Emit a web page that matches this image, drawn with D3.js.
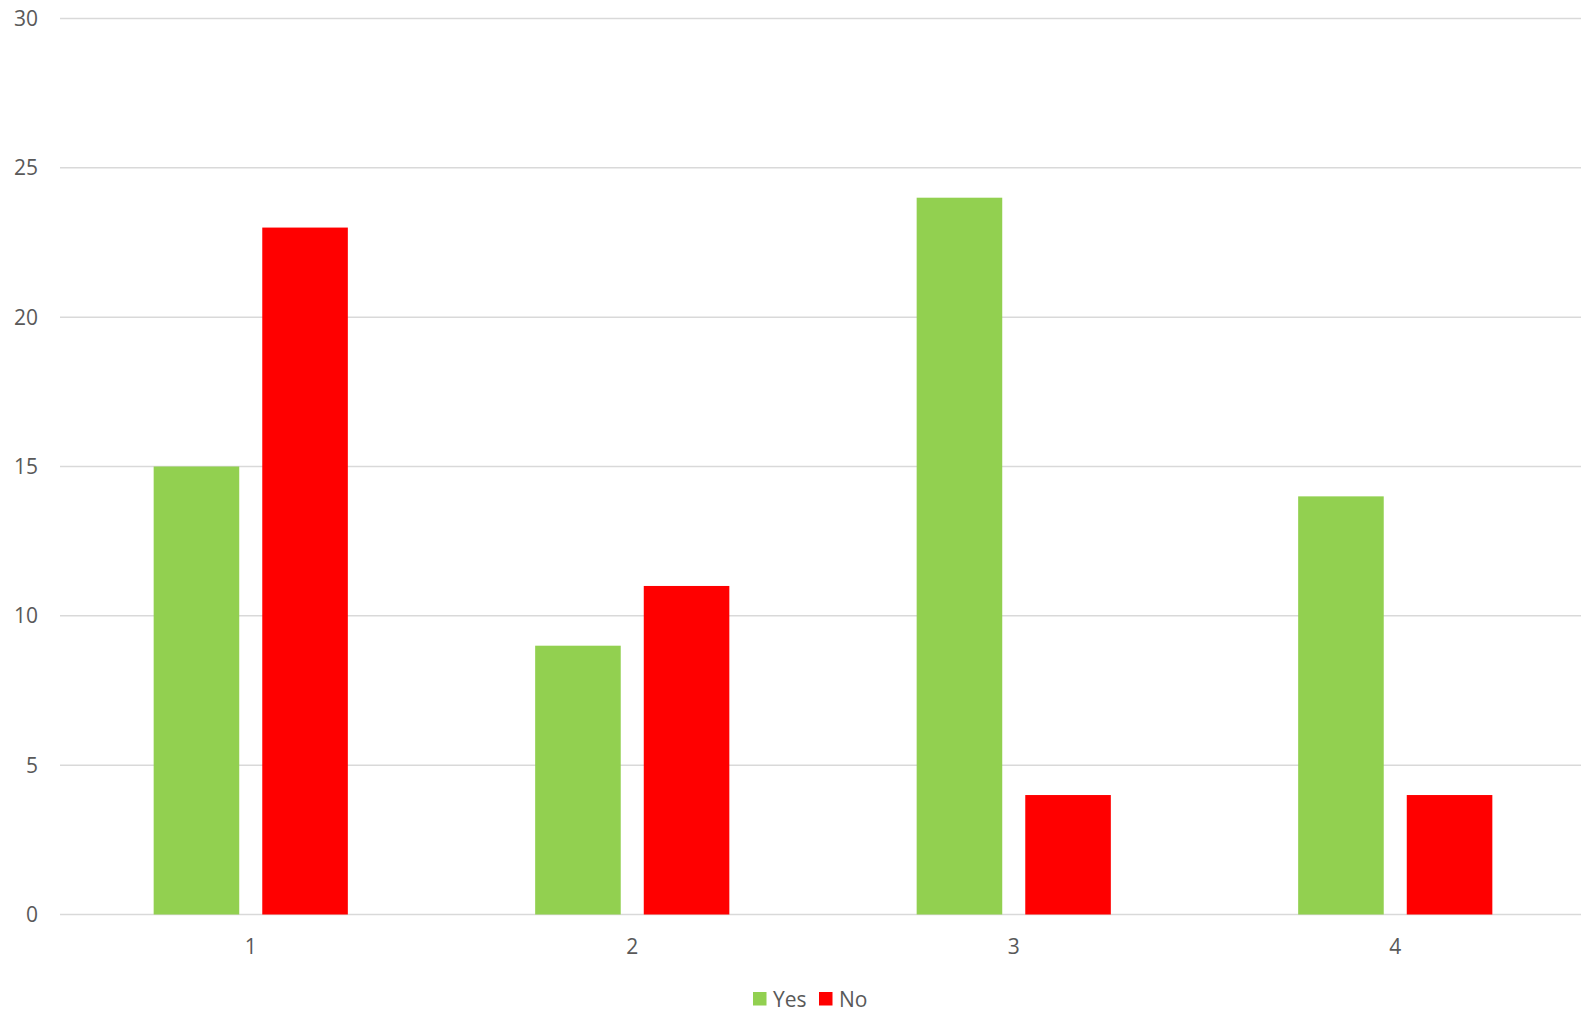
<!DOCTYPE html>
<html>
<head>
<meta charset="utf-8">
<script src="https://cdn.jsdelivr.net/npm/d3@7"></script>
<style>
  body { margin: 0; background: #fff; }
  text { font-family: "Open Sans", "Liberation Sans", sans-serif; fill: #595959; }
</style>
</head>
<body>
<div class="chart"></div>
<script>
const categories = ['1', '2', '3', '4'];
const seriesNames = ['Yes', 'No'];
const yesValues = [15, 9, 24, 14];
const noValues = [23, 11, 4, 4];
const yTicks = [0, 5, 10, 15, 20, 25, 30];
const colors = { Yes: '#92D050', No: '#FF0000' };

const width = 1581;
const height = 1012;
const plotLeft = 60, plotRight = 1586, plotTop = 18.5, plotBottom = 914.5;

const data = categories.map((c, i) => ({ cat: c, Yes: yesValues[i], No: noValues[i] }));

const svg = d3.select('.chart')
  .append('svg')
  .attr('width', width)
  .attr('height', height);

const x0 = d3.scaleBand()
  .domain(categories)
  .range([plotLeft, plotRight])
  .paddingInner(0.491)
  .paddingOuter(0.2455);

const x1 = d3.scaleBand()
  .domain(seriesNames)
  .range([0, x0.bandwidth()])
  .paddingInner(0.212);

const y = d3.scaleLinear()
  .domain([0, 30])
  .range([plotBottom, plotTop]);

// gridlines
svg.selectAll('line.grid')
  .data(yTicks)
  .enter()
  .append('line')
  .attr('class', 'grid')
  .attr('x1', plotLeft)
  .attr('x2', width)
  .attr('y1', d => y(d))
  .attr('y2', d => y(d))
  .attr('stroke', '#d9d9d9')
  .attr('stroke-width', 1.5);

// y labels
svg.selectAll('text.ylab')
  .data(yTicks)
  .enter()
  .append('text')
  .attr('class', 'ylab')
  .text(d => d)
  .attr('x', 38)
  .attr('y', d => y(d))
  .attr('dy', '0.36em')
  .attr('text-anchor', 'end')
  .attr('font-size', 21);

// bars
const groups = svg.selectAll('g.cat')
  .data(data)
  .enter()
  .append('g')
  .attr('class', 'cat')
  .attr('transform', d => `translate(${x0(d.cat)},0)`);

groups.selectAll('rect')
  .data(d => seriesNames.map(s => ({ s, v: d[s] })))
  .enter()
  .append('rect')
  .attr('x', d => x1(d.s))
  .attr('y', d => y(d.v))
  .attr('width', x1.bandwidth())
  .attr('height', d => y(0) - y(d.v))
  .attr('fill', d => colors[d.s]);

// x labels
svg.selectAll('text.xlab')
  .data(categories)
  .enter()
  .append('text')
  .attr('class', 'xlab')
  .text(d => d)
  .attr('x', d => x0(d) + x0.bandwidth() / 2)
  .attr('y', 954)
  .attr('text-anchor', 'middle')
  .attr('font-size', 21);

// legend
const legendX = [753, 819];
const legend = svg.selectAll('g.legend')
  .data(seriesNames)
  .enter()
  .append('g')
  .attr('class', 'legend')
  .attr('transform', (d, i) => `translate(${legendX[i]},992)`);

legend.append('rect')
  .attr('width', 13.5)
  .attr('height', 13.5)
  .attr('fill', d => colors[d]);

legend.append('text')
  .text(d => d)
  .attr('x', 20)
  .attr('y', 14.5)
  .attr('font-size', 21);
</script>
</body>
</html>
